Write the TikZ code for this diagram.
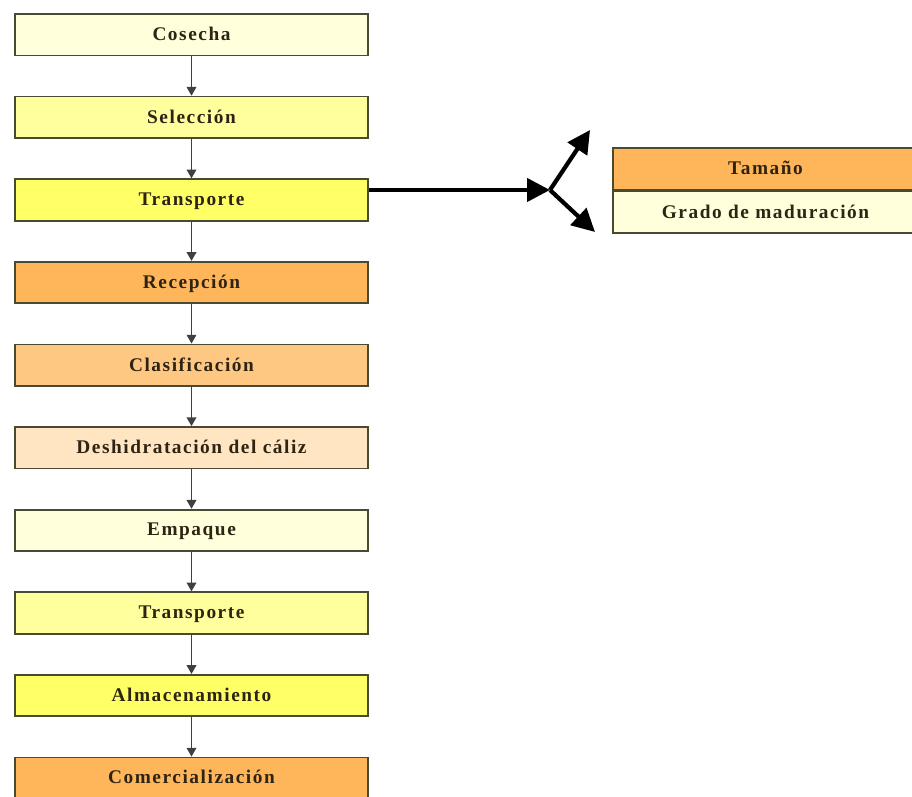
\documentclass[tikz,border=0pt]{standalone}
\usepackage{fontspec}
\newfontfamily\boxfont[LetterSpace=8]{Liberation Serif}
\usepackage{tikz}
\usetikzlibrary{positioning,arrows.meta,calc}

\definecolor{crema}{HTML}{FFFFDC}
\definecolor{amarilloclaro}{HTML}{FFFF9E}
\definecolor{amarillo}{HTML}{FFFF66}
\definecolor{naranja}{HTML}{FFB55A}
\definecolor{naranjaclaro}{HTML}{FFC882}
\definecolor{durazno}{HTML}{FFE5C2}
\definecolor{borde}{HTML}{4A4A30}
\definecolor{texto}{HTML}{2E2414}

\begin{document}
\begin{tikzpicture}[
      >={Triangle[length=5pt,width=5.5pt]},
      auto
    ]

    \tikzstyle{box} = [rectangle, minimum width=7.06cm, minimum height=0.83cm, text centered, text depth=0.25ex, draw=borde, line width=1pt, text=texto, font=\boxfont\bfseries\fontsize{11}{13}\selectfont]

    \tikzstyle{arrow} = [->, draw=black!75, line width=0.8pt]

    \tikzstyle{bigarrow} = [->, >={Triangle[length=13pt,width=13pt]}, line width=2.4pt]

    \useasboundingbox (0,0) rectangle (18.24,-15.94);

    \node [box, fill=crema] (cosecha) at (3.83,-0.695) {Cosecha};
    \node [box, fill=amarilloclaro] (seleccion) [node distance=0.787cm, below=of cosecha] {Selección};
    \node [box, fill=amarillo] (transporte) [node distance=0.787cm, below=of seleccion] {Transporte};
    \node [box, fill=naranja] (recepcion) [node distance=0.787cm, below=of transporte] {Recepción};
    \node [box, fill=naranjaclaro] (clasificacion) [node distance=0.787cm, below=of recepcion] {Clasificación};
    \node [box, fill=durazno] (deshidratacion) [node distance=0.787cm, below=of clasificacion] {Deshidratación del cáliz};
    \node [box, fill=crema] (empaque) [node distance=0.787cm, below=of deshidratacion] {Empaque};
    \node [box, fill=amarilloclaro] (transporteB) [node distance=0.787cm, below=of empaque] {Transporte};
    \node [box, fill=amarillo] (almacenamiento) [node distance=0.787cm, below=of transporteB] {Almacenamiento};
    \node [box, fill=naranja] (comercializacion) [node distance=0.787cm, below=of almacenamiento] {Comercialización};

    \node [box, fill=naranja, minimum width=6.1cm] (tamano) at (15.31,-3.38) {Tamaño};
    \node [box, fill=crema, minimum width=6.1cm] (grado) [node distance=0cm, below=of tamano] {Grado de maduración};

    \coordinate (split) at (11.0,-3.8);
    \coordinate (splitUp) at (11.8,-2.6);
    \coordinate (splitDown) at (11.9,-4.64);

    \draw [arrow] (cosecha) -- (seleccion);
    \draw [arrow] (seleccion) -- (transporte);
    \draw [arrow] (transporte) -- (recepcion);
    \draw [arrow] (recepcion) -- (clasificacion);
    \draw [arrow] (clasificacion) -- (deshidratacion);
    \draw [arrow] (deshidratacion) -- (empaque);
    \draw [arrow] (empaque) -- (transporteB);
    \draw [arrow] (transporteB) -- (almacenamiento);
    \draw [arrow] (almacenamiento) -- (comercializacion);

    \draw [bigarrow] (transporte.east |- split) -- (split);
    \draw [bigarrow] (split) -- (splitUp);
    \draw [bigarrow] (split) -- (splitDown);

\end{tikzpicture}
\end{document}
